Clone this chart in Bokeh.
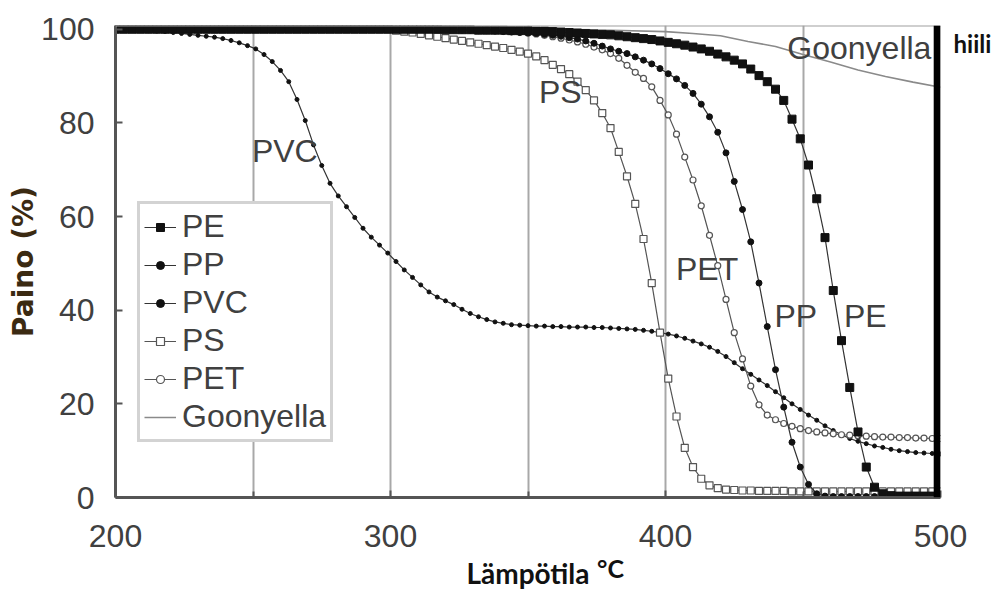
from bokeh.plotting import figure
from bokeh.models import (Range1d, FixedTicker, Span, Legend, LegendItem,
                          ColumnDataSource, LinearAxis)
from bokeh.core.properties import value
from bokeh.embed import file_html
from bokeh.resources import INLINE

# ---------------- data ----------------
temperature = [
    200, 203, 206, 209, 212, 215, 218, 221, 224, 227,
    230, 233, 236, 239, 242, 245, 248, 251, 254, 257,
    260, 263, 266, 269, 272, 275, 278, 281, 284, 287,
    290, 293, 296, 299, 302, 305, 308, 311, 314, 317,
    320, 323, 326, 329, 332, 335, 338, 341, 344, 347,
    350, 353, 356, 359, 362, 365, 368, 371, 374, 377,
    380, 383, 386, 389, 392, 395, 398, 401, 404, 407,
    410, 413, 416, 419, 422, 425, 428, 431, 434, 437,
    440, 443, 446, 449, 452, 455, 458, 461, 464, 467,
    470, 473, 476, 479, 482, 485, 488, 491, 494, 497,
    500]

pe = [
    100.0, 100.0, 100.0, 100.0, 100.0, 100.0, 100.0, 100.0, 100.0, 100.0,
    100.0, 100.0, 100.0, 100.0, 100.0, 100.0, 100.0, 100.0, 100.0, 100.0,
    100.0, 100.0, 100.0, 100.0, 100.0, 100.0, 100.0, 100.0, 100.0, 100.0,
    100.0, 100.0, 100.0, 100.0, 100.0, 100.0, 100.0, 100.0, 100.0, 100.0,
    99.9, 99.9, 99.9, 99.9, 99.8, 99.8, 99.8, 99.8, 99.7, 99.7,
    99.7, 99.6, 99.6, 99.5, 99.4, 99.3, 99.2, 99.1, 99.0, 98.9,
    98.8, 98.6, 98.4, 98.2, 98.0, 97.8, 97.5, 97.2, 96.9, 96.6,
    96.2, 95.8, 95.3, 94.7, 94.1, 93.4, 92.6, 91.5, 90.1, 88.8,
    87.2, 84.8, 80.8, 76.6, 71.0, 63.8, 55.5, 44.2, 33.5, 23.5,
    14.0, 6.5, 2.2, 0.8, 0.4, 0.3, 0.3, 0.3, 0.3, 0.3,
    0.3]

pp = [
    100.0, 100.0, 100.0, 100.0, 100.0, 100.0, 100.0, 100.0, 100.0, 100.0,
    100.0, 100.0, 100.0, 100.0, 100.0, 100.0, 100.0, 100.0, 100.0, 100.0,
    100.0, 100.0, 100.0, 100.0, 100.0, 100.0, 100.0, 100.0, 100.0, 100.0,
    100.0, 100.0, 100.0, 100.0, 100.0, 100.0, 100.0, 100.0, 100.0, 100.0,
    99.9, 99.9, 99.8, 99.8, 99.7, 99.7, 99.6, 99.5, 99.4, 99.3,
    99.2, 99.1, 98.9, 98.7, 98.5, 98.2, 97.9, 97.5, 97.0, 96.4,
    95.8, 95.3, 94.8, 94.1, 93.4, 92.6, 91.6, 90.5, 89.4, 88.0,
    86.3, 84.0, 81.3, 78.0, 73.6, 67.5, 61.5, 54.6, 45.8, 36.5,
    27.3, 19.3, 11.8, 6.5, 2.8, 0.8, 0.3, 0.2, 0.2, 0.2,
    0.2, 0.2, 0.2, 0.2, 0.2, 0.2, 0.2, 0.2, 0.2, 0.2,
    0.2]

pvc = [
    99.9, 99.9, 99.8, 99.8, 99.7, 99.6, 99.5, 99.3, 99.1, 98.9,
    98.7, 98.5, 98.3, 98.0, 97.6, 97.1, 96.5, 95.8, 94.6, 93.1,
    91.2, 88.8, 85.0, 80.5, 75.3, 70.9, 67.1, 64.4, 62.1, 59.8,
    57.5, 55.6, 53.9, 52.2, 50.4, 48.6, 47.0, 45.4, 43.9, 42.8,
    42.0, 41.2, 40.2, 39.3, 38.6, 38.0, 37.5, 37.2, 36.9, 36.8,
    36.7, 36.6, 36.6, 36.5, 36.5, 36.4, 36.4, 36.4, 36.3, 36.3,
    36.2, 36.1, 36.0, 35.9, 35.7, 35.5, 35.2, 34.9, 34.5, 34.0,
    33.4, 32.8, 32.1, 31.2, 30.1, 28.8, 27.5, 26.3, 25.1, 23.9,
    22.6, 21.3, 20.0, 18.8, 17.6, 16.5, 15.3, 14.3, 13.4, 12.6,
    12.0, 11.5, 11.0, 10.7, 10.3, 10.0, 9.8, 9.6, 9.5, 9.4,
    9.3]

ps = [
    100.0, 100.0, 100.0, 100.0, 100.0, 100.0, 100.0, 100.0, 100.0, 100.0,
    100.0, 100.0, 100.0, 100.0, 100.0, 100.0, 100.0, 100.0, 100.0, 100.0,
    100.0, 100.0, 100.0, 100.0, 100.0, 100.0, 100.0, 100.0, 100.0, 100.0,
    100.0, 100.0, 100.0, 100.0, 99.7, 99.5, 99.3, 99.0, 98.7, 98.4,
    98.1, 97.8, 97.5, 97.2, 96.9, 96.6, 96.3, 96.0, 95.6, 95.2,
    94.8, 94.2, 93.4, 92.4, 91.5, 90.4, 88.8, 87.0, 84.8, 82.1,
    78.9, 73.8, 68.6, 62.7, 55.2, 45.8, 35.2, 25.4, 17.3, 10.6,
    6.5, 4.0, 2.6, 2.0, 1.7, 1.6, 1.5, 1.5, 1.4, 1.4,
    1.4, 1.4, 1.3, 1.3, 1.3, 1.3, 1.3, 1.3, 1.3, 1.3,
    1.3, 1.3, 1.3, 1.3, 1.3, 1.3, 1.3, 1.3, 1.3, 1.3,
    1.3]

pet = [
    100.0, 100.0, 100.0, 100.0, 100.0, 100.0, 100.0, 100.0, 100.0, 100.0,
    100.0, 100.0, 100.0, 100.0, 100.0, 100.0, 100.0, 100.0, 100.0, 100.0,
    100.0, 100.0, 100.0, 100.0, 100.0, 100.0, 100.0, 100.0, 100.0, 100.0,
    100.0, 100.0, 100.0, 100.0, 100.0, 100.0, 100.0, 100.0, 100.0, 100.0,
    100.0, 100.0, 100.0, 100.0, 99.9, 99.9, 99.8, 99.7, 99.6, 99.4,
    99.2, 99.0, 98.7, 98.4, 98.1, 97.7, 97.3, 96.8, 96.2, 95.6,
    94.8, 93.8, 92.3, 90.8, 89.5, 87.7, 84.8, 81.7, 77.6, 72.7,
    67.8, 62.3, 56.0, 49.5, 42.3, 35.2, 29.6, 23.8, 19.8, 17.6,
    16.6, 15.8, 15.2, 14.7, 14.3, 14.0, 13.8, 13.6, 13.4, 13.3,
    13.2, 13.1, 13.0, 12.9, 12.9, 12.8, 12.8, 12.7, 12.7, 12.6,
    12.6]

goonyella_temperature = [200, 250, 300, 350, 380, 400, 410, 420, 430, 440, 450, 460, 470, 480, 490, 500]
goonyella = [100.0, 100.0, 100.0, 99.9, 99.8, 99.5, 99.1, 98.6, 97.4, 96.3, 94.6, 93.0, 91.3, 89.9, 88.7, 87.6]

x_ticks = [200, 300, 400, 500]
x_minor_ticks = [250, 350, 450]
y_ticks = [0, 20, 40, 60, 80, 100]
grid_lines = [250, 300, 350, 400, 450]

curve_labels = ["PVC", "PS", "PET", "PP", "PE", "Goonyella"]
series_labels = ["PE", "PP", "PVC", "PS", "PET", "Goonyella"]

# ---------------- figure ----------------
p = figure(width=994, height=604, output_backend="svg", toolbar_location=None,
           x_range=Range1d(200, 500), y_range=Range1d(0, 100.8),
           min_border_left=115, min_border_right=50, min_border_top=25, min_border_bottom=107)
p.outline_line_color = None
p.background_fill_color = "white"
p.border_fill_color = "white"

TXT = "#404040"
FONT = "Liberation Sans"
FS = "32px"

p.xaxis.ticker = FixedTicker(ticks=x_ticks, minor_ticks=x_minor_ticks)
p.yaxis.ticker = FixedTicker(ticks=y_ticks)
for ax in (p.xaxis[0], p.yaxis[0]):
    ax.axis_line_color = "#555555"
    ax.axis_line_width = 3
    ax.major_tick_in = 7
    ax.major_tick_out = 0
    ax.minor_tick_in = 6
    ax.minor_tick_out = 0
    ax.major_tick_line_color = "#555555"
    ax.major_tick_line_width = 2
    ax.minor_tick_line_color = "#555555"
    ax.minor_tick_line_width = 2
    ax.major_label_text_font = FONT
    ax.major_label_text_font_size = FS
    ax.major_label_text_color = TXT
p.yaxis.minor_tick_line_color = None
p.xaxis.major_label_standoff = 27
p.yaxis.major_label_standoff = 21

p.xaxis.axis_label = "Lämpötila"
p.xaxis.axis_label_text_font = "Lato"
p.xaxis.axis_label_text_font_style = "bold"
p.xaxis.axis_label_text_font_size = "28px"
p.xaxis.axis_label_text_color = "#111111"
p.xaxis.axis_label_standoff = 6

p.yaxis.axis_label = "Paino (%)"
p.yaxis.axis_label_text_font = "DejaVu Sans"
p.yaxis.axis_label_text_font_style = "bold"
p.yaxis.axis_label_text_font_size = "28px"
p.yaxis.axis_label_text_color = "#3b2a12"
p.yaxis.axis_label_standoff = -2

p.xgrid.ticker = FixedTicker(ticks=grid_lines)
p.xgrid.grid_line_color = "#a8a8a8"
p.xgrid.grid_line_width = 2
p.ygrid.grid_line_color = None

# raised unit "°C" after the x title, drawn as the label of a bare extra axis
unit_ax = LinearAxis(ticker=FixedTicker(ticks=[380]), major_label_overrides={380: "°C"})
unit_ax.axis_line_color = None
unit_ax.major_tick_line_color = None
unit_ax.minor_tick_line_color = None
unit_ax.major_label_standoff = -46
unit_ax.major_label_text_font = "Lato"
unit_ax.major_label_text_font_style = "bold"
unit_ax.major_label_text_font_size = "25px"
unit_ax.major_label_text_color = "#111111"
p.add_layout(unit_ax, "below")

# right-hand side word "hiili" as the label of a bare extra axis
right_ax = LinearAxis(ticker=FixedTicker(ticks=[97]), major_label_overrides={97: "hiili"})
right_ax.axis_line_color = None
right_ax.major_tick_line_color = None
right_ax.minor_tick_line_color = None
right_ax.major_label_standoff = 7
right_ax.major_label_text_font = "Lato"
right_ax.major_label_text_font_style = "bold"
right_ax.major_label_text_font_size = "24px"
right_ax.major_label_text_color = "#111111"
p.add_layout(right_ax, "right")

# top border
p.add_layout(Span(location=100.8, dimension="width", line_color="#a0a0a0", line_width=2))

# ---------------- series ----------------
r_go = p.line(goonyella_temperature, goonyella, line_color="#8a8a8a", line_width=1.6)

r_pvc_l = p.line(temperature, pvc, line_color="#333333", line_width=1.2)
r_pvc_m = p.scatter(temperature, pvc, marker="circle", size=4, fill_color="#111111", line_color="#111111")

r_pet_l = p.line(temperature, pet, line_color="#555555", line_width=1.2)
r_pet_m = p.scatter(temperature, pet, marker="circle", size=6, fill_color="white", line_color="#555555", line_width=1.2)

r_ps_l = p.line(temperature, ps, line_color="#555555", line_width=1.2)
r_ps_m = p.scatter(temperature, ps, marker="square", size=7, fill_color="white", line_color="#555555", line_width=1.2)

r_pp_l = p.line(temperature, pp, line_color="#333333", line_width=1.2)
r_pp_m = p.scatter(temperature, pp, marker="circle", size=6, fill_color="#111111", line_color="#111111")

r_pe_l = p.line(temperature, pe, line_color="#333333", line_width=1.2)
r_pe_m = p.scatter(temperature, pe, marker="square", size=8, fill_color="#111111", line_color="#111111")

# thick black right border
p.add_layout(Span(location=498.8, dimension="height", line_color="black", line_width=7))

# ---------------- in-plot labels ----------------
lab_src = ColumnDataSource(dict(
    x=[249.6, 354.0, 403.8, 439.6, 464.9, 444.3],
    y=[74.1, 86.6, 48.8, 38.8, 38.8, 96.0],
    t=curve_labels))
p.text(x="x", y="y", text="t", source=lab_src, text_font=value(FONT),
       text_font_size=value(FS), text_color=TXT, text_align="left", text_baseline="middle")

# ---------------- legend ----------------
renderer_sets = [[r_pe_l, r_pe_m], [r_pp_l, r_pp_m], [r_pvc_l, r_pvc_m],
                 [r_ps_l, r_ps_m], [r_pet_l, r_pet_m], [r_go]]
legend = Legend(items=[LegendItem(label=lab, renderers=rs)
                       for lab, rs in zip(series_labels, renderer_sets)],
                location=(22, 55))
legend.label_text_font = FONT
legend.label_text_font_size = FS
legend.label_text_color = TXT
legend.glyph_width = 32
legend.glyph_height = 20
legend.label_standoff = 6
legend.padding = 4
legend.spacing = 1
legend.margin = 0
legend.border_line_color = "#a8a8a8"
legend.border_line_width = 3
legend.background_fill_color = "white"
legend.background_fill_alpha = 1
p.add_layout(legend)

open("out.html", "w").write(file_html(p, INLINE))
